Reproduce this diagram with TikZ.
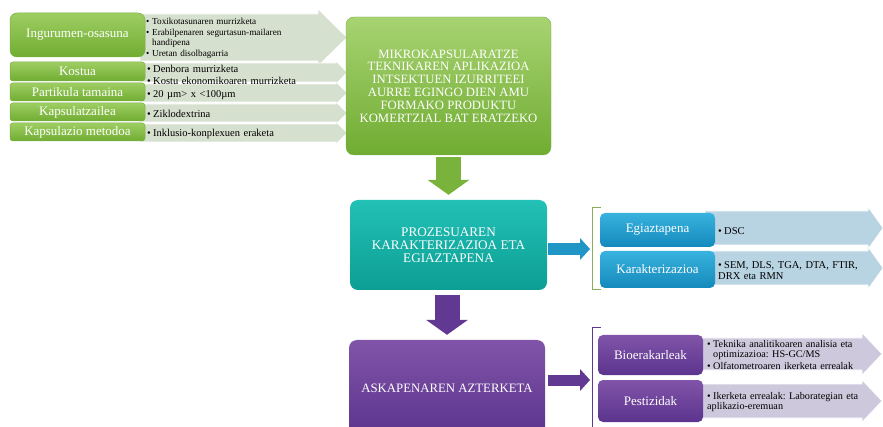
\documentclass[tikz,border=0pt]{standalone}
\usepackage{fontspec}
\setmainfont{Liberation Serif}
\usetikzlibrary{arrows.meta}

% colours
\definecolor{grnTop}{RGB}{158,206,98}
\definecolor{grnBot}{RGB}{112,172,50}
\definecolor{grnEdge}{RGB}{125,175,70}
\definecolor{tealTop}{RGB}{34,192,182}
\definecolor{tealBot}{RGB}{12,158,148}
\definecolor{bluTop}{RGB}{56,178,222}
\definecolor{bluBot}{RGB}{20,138,188}
\definecolor{purTop}{RGB}{128,84,168}
\definecolor{purBot}{RGB}{92,52,142}
\definecolor{grnArw}{RGB}{214,224,206}
\definecolor{bluArw}{RGB}{184,212,226}
\definecolor{purArw}{RGB}{206,200,220}
\definecolor{oliveLine}{RGB}{140,172,90}

% bullet line
\newcommand{\blt}[1]{\par\hangindent=6pt\hangafter=1\noindent\makebox[6pt][l]{\textbullet}#1}

% flat arrow behind the bullets: x1, xhead, xtip, ytop, ybottom, extra
\newcommand{\barrow}[7]{%
  \fill[#1, draw=white, line width=0.6pt]
    (#2,#5) -- (#3,#5) -- (#3,#5-#7) -- (#4,{(#5+#6)/2}) -- (#3,#6+#7) -- (#3,#6) -- (#2,#6) -- cycle;}

\tikzset{
  lab/.style={text=white, inner sep=0pt, align=center,
    font=\fontsize{13}{14}\selectfont},
  greenlab/.style={lab, rounded corners=3pt, draw=grnEdge, line width=0.5pt,
    top color=grnTop, bottom color=grnBot, minimum width=135pt},
  blulab/.style={lab, rounded corners=5pt, top color=bluTop, bottom color=bluBot},
  purlab/.style={lab, rounded corners=5pt, top color=purTop, bottom color=purBot,
    minimum width=105pt},
  bigbox/.style={lab, rounded corners=8pt, font=\fontsize{12.7}{12.8}\selectfont},
  bullets/.style={anchor=west, inner sep=0pt, text width=200pt,
    font=\fontsize{#1}{#1}\selectfont\raggedright\frenchspacing\setlength{\parskip}{1.5pt}},
  bullets/.default=10.5,
  blockdown/.style={line width=25pt, -{Triangle[width=42pt,length=15pt,line width=0pt]}},
  blockright/.style={line width=12pt, -{Triangle[width=22pt,length=10pt,line width=0pt]}},
}

\begin{document}
\begin{tikzpicture}[x=1pt,y=-1pt]
  \useasboundingbox (0,0) rectangle (883,427);

  %arrows behind the bullets
  \barrow{grnArw}{140}{318}{347}{14}{61}{5}
  \barrow{grnArw}{140}{336}{347}{63}{82}{2}
  \barrow{grnArw}{140}{336}{347}{84}{102}{2}
  \barrow{grnArw}{140}{336}{347}{104}{122}{2}
  \barrow{grnArw}{140}{336}{347}{124}{142}{2}
  \barrow{bluArw}{705}{868}{883}{211}{245}{4}
  \barrow{bluArw}{705}{868}{883}{251}{285}{4}
  \barrow{purArw}{698}{862}{882}{338}{370}{5}
  \barrow{purArw}{698}{862}{882}{384}{418}{4}

  %left column
  \node[greenlab, minimum height=44pt, rounded corners=7pt] (ingur) at (77.5,35) {Ingurumen-osasuna};
  \node[greenlab, minimum height=19pt] (kost) at (77.5,71.5) {Kostua};
  \node[greenlab, minimum height=18pt] (part) at (77.5,92) {Partikula tamaina};
  \node[greenlab, minimum height=18pt] (kaps) at (77.5,112) {Kapsulatzailea};
  \node[greenlab, minimum height=18pt] (metod) at (77.5,132) {Kapsulazio metodoa};

  \node[bullets=9.2] (ingurB) at (146,36) {\setlength{\baselineskip}{9.5pt}%
    \blt{Toxikotasunaren murrizketa}
    \blt{Erabilpenaren segurtasun-mailaren\break handipena}
    \blt{Uretan disolbagarria}};
  \node[bullets] (kostB) at (147,72.5) {\setlength{\baselineskip}{11pt}%
    \blt{Denbora murrizketa}
    \blt{Kostu ekonomikoaren murrizketa}};
  \node[bullets] (partB) at (147,92.5) {\blt{20 µm> x <100µm}};
  \node[bullets] (kapsB) at (147,112) {\blt{Ziklodextrina}};
  \node[bullets] (metodB) at (147,131.5) {\blt{Inklusio-konplexuen eraketa}};

  %main column
  \node[bigbox, top color=grnTop!90!white, bottom color=grnBot, draw=grnEdge,
    minimum width=205pt, minimum height=138pt] (mikro) at (448.5,86)
    {MIKROKAPSULARATZE\\TEKNIKAREN APLIKAZIOA\\INTSEKTUEN IZURRITEEI\\AURRE EGINGO DIEN AMU\\FORMAKO PRODUKTU\\KOMERTZIAL BAT ERATZEKO};
  \node[bigbox, top color=tealTop, bottom color=tealBot,
    font=\fontsize{13.2}{13.2}\selectfont,
    minimum width=197pt, minimum height=90pt] (prozes) at (448.5,245)
    {PROZESUAREN\\KARAKTERIZAZIOA ETA\\EGIAZTAPENA};
  \node[bigbox, top color=purTop, bottom color=purBot,
    font=\fontsize{12.8}{13}\selectfont,
    minimum width=196pt, minimum height=96pt] (askap) at (447,388)
    {ASKAPENAREN AZTERKETA};

  \draw[blockdown, grnBot!80!grnTop, shorten <=2pt, shorten >=5pt] (mikro.south) -- (prozes.north);
  \draw[blockdown, purBot!85!purTop, shorten <=5pt, shorten >=5pt] (prozes.south -| askap.north) -- (askap.north);

  %right column
  \coordinate (brkA) at (590,249);
  \coordinate (brkB) at (590,380);
  \draw[blockright, bluBot!70!bluTop, shorten <=1pt] (prozes.east |- brkA) -- (brkA);
  \draw[blockright, purBot!85!purTop, line width=11pt, shorten <=3pt] (askap.east |- brkB) -- (brkB);
  \draw[oliveLine, line width=1pt] (601,208) -- (592,208) -- (592,290) -- (601,290);
  \draw[purBot!85!purTop, line width=1pt] (601,328) -- (592,328) -- (592,427);

  \node[blulab, minimum width=115pt, minimum height=34pt] (egiaz) at (657.5,230) {Egiaztapena};
  \node[blulab, minimum width=115pt, minimum height=37pt] (karak) at (657.5,269.5) {Karakterizazioa};
  \node[purlab, minimum height=40pt] (bioer) at (650.5,355) {Bioerakarleak};
  \node[purlab, minimum height=42pt] (pesti) at (650.5,401) {Pestizidak};

  \node[bullets] (egiazB) at (718,229) {\blt{DSC}};
  \node[bullets] (karakB) at (718,268) {\setlength{\baselineskip}{10.5pt}%
    \blt{SEM, DLS, TGA, DTA, FTIR,\break DRX eta RMN}};
  \node[bullets=10.2] (bioerB) at (707,353) {\setlength{\baselineskip}{10pt}%
    \blt{Teknika analitikoaren analisia eta\break optimizazioa: HS-GC/MS}
    \blt{Olfatometroaren ikerketa errealak}};
  \node[bullets=10.2] (pestiB) at (707,400) {\setlength{\baselineskip}{10.5pt}%
    \blt{Ikerketa errealak: Laborategian eta\break aplikazio-eremuan}};
\end{tikzpicture}
\end{document}
